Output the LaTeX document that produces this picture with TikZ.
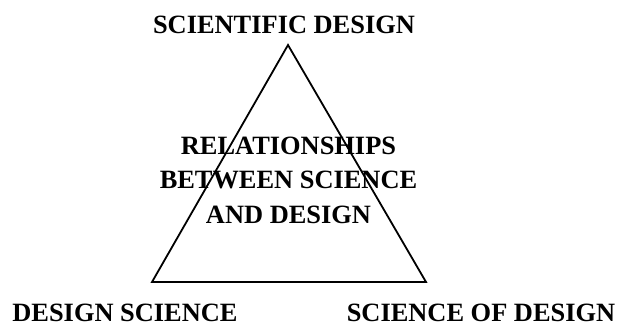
\documentclass[tikz,border=0pt]{standalone}
\usepackage{fontspec}
\setmainfont{Liberation Serif}
\begin{document}
\begin{tikzpicture}[x=1pt,y=-1pt,
  lbl/.style={inner sep=0pt,font=\fontsize{26.4}{34.5}\selectfont\bfseries,anchor=base},
  tri/.style={draw=black,line width=1.8pt,line join=miter}]
\useasboundingbox (0,0) rectangle (619,325);
\coordinate (apex) at (288,45);
\coordinate (bl) at (152,282);
\coordinate (br) at (426,282);
\draw[tri] (apex) -- (bl) -- (br) -- cycle;
\node[lbl] (top) at (284,33) {SCIENTIFIC DESIGN};
\node[lbl,text depth=0pt] (left) at (125,321) {DESIGN SCIENCE};
\node[lbl,text depth=0pt] (right) at (481,321) {SCIENCE OF DESIGN};
\node[lbl,align=center] (mid) at (288.5,223) {RELATIONSHIPS\\BETWEEN SCIENCE\\AND DESIGN};
\end{tikzpicture}
\end{document}
